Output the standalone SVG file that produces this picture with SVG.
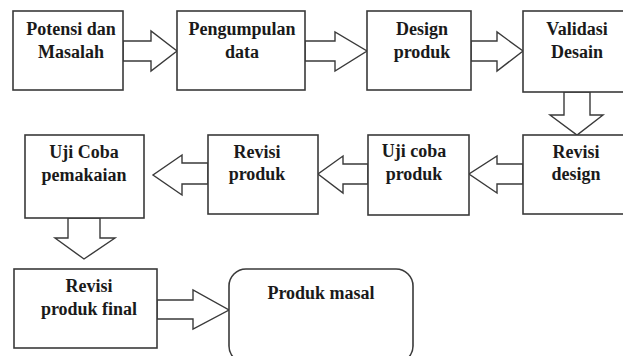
<svg xmlns="http://www.w3.org/2000/svg" width="623" height="356" viewBox="0 0 623 356">
  <style>
    .box { fill: #ffffff; stroke: #3a3a3a; stroke-width: 1.6; }
    .arrow { fill: #ffffff; stroke: #3a3a3a; stroke-width: 1.4; stroke-linejoin: miter; }
    text { font-family: "Liberation Serif", "Times New Roman", serif; font-weight: bold; font-size: 18px; fill: #1a1a1a; text-anchor: middle; }
  </style>
  <rect width="623" height="356" fill="#ffffff"/>

  <!-- block arrows between steps -->
  <g id="connectors">
    <polygon class="arrow" points="123,41 151,41 151,31 177,51 151,71 151,61 123,61"/>
    <polygon class="arrow" points="305,41 335,41 335,32 367,51 335,71 335,61 305,61"/>
    <polygon class="arrow" points="471,41 497,41 497,32 523,51 497,71 497,61 471,61"/>
    <polygon class="arrow" points="564,92 564,115 550,115 577,135 603,115 590,115 590,92"/>
    <polygon class="arrow" points="523,164 497,164 497,156 469,174 497,193 497,184 523,184"/>
    <polygon class="arrow" points="368,164 343,164 343,156 318,174 343,193 343,184 368,184"/>
    <polygon class="arrow" points="208,163 182,163 182,155 153,175 182,195 182,184 208,184"/>
    <polygon class="arrow" points="68,218 68,238 55,238 84,259 115,238 100,238 100,218"/>
    <polygon class="arrow" points="157,300 193,300 193,290 229,310 193,329 193,319 157,319"/>
  </g>

  <g id="potensi">
    <rect class="box" x="13" y="11" width="110" height="79"/>
    <text x="71" y="35">Potensi dan</text>
    <text x="71" y="58">Masalah</text>
  </g>

  <g id="pengumpulan">
    <rect class="box" x="177" y="11" width="128" height="79"/>
    <text x="242" y="35">Pengumpulan</text>
    <text x="242" y="58">data</text>
  </g>

  <g id="design-produk">
    <rect class="box" x="367" y="11" width="104" height="79"/>
    <text x="422" y="35">Design</text>
    <text x="422" y="58">produk</text>
  </g>

  <g id="validasi">
    <rect class="box" x="523" y="11" width="110" height="81"/>
    <text x="577" y="35">Validasi</text>
    <text x="577" y="58">Desain</text>
  </g>

  <g id="revisi-design">
    <rect class="box" x="523" y="135" width="110" height="79"/>
    <text x="576" y="158">Revisi</text>
    <text x="576" y="180">design</text>
  </g>

  <g id="uji-coba-produk">
    <rect class="box" x="368" y="135" width="101" height="80"/>
    <text x="414" y="157">Uji coba</text>
    <text x="414" y="180">produk</text>
  </g>

  <g id="revisi-produk">
    <rect class="box" x="208" y="135" width="110" height="79"/>
    <text x="257" y="158">Revisi</text>
    <text x="257" y="180">produk</text>
  </g>

  <g id="uji-coba-pemakaian">
    <rect class="box" x="25" y="135" width="119" height="83"/>
    <text x="84" y="158">Uji Coba</text>
    <text x="84" y="181">pemakaian</text>
  </g>

  <g id="revisi-produk-final">
    <rect class="box" x="14" y="269" width="143" height="79"/>
    <text x="89" y="292">Revisi</text>
    <text x="89" y="315">produk final</text>
  </g>

  <g id="produk-masal">
    <rect class="box" x="229" y="269" width="184" height="94" rx="17" ry="17"/>
    <text x="321" y="299">Produk masal</text>
  </g>
</svg>
